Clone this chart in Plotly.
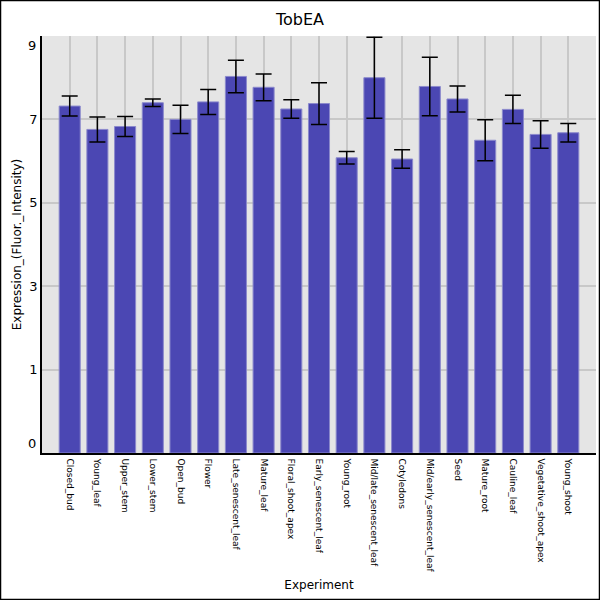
import plotly.graph_objects as go

# tissues along the x axis, in plotted order
experiments = [
    "Closed_bud", "Young_leaf", "Upper_stem", "Lower_stem", "Open_bud",
    "Flower", "Late_senescent_leaf", "Mature_leaf", "Floral_shoot_apex",
    "Early_senescent_leaf", "Young_root", "Mid/late_senescent_leaf",
    "Cotyledons", "Mid/early_senescent_leaf", "Seed", "Mature_root",
    "Cauline_leaf", "Vegetative_shoot_apex", "Young_shoot",
]

# mean expression and standard error
expression = [
    7.32, 6.76, 6.83, 7.40, 7.00, 7.42, 8.03, 7.77, 7.25, 7.38,
    6.08, 8.00, 6.05, 7.79, 7.49, 6.50, 7.24, 6.64, 6.68,
]
std_err = [
    0.24, 0.30, 0.24, 0.09, 0.34, 0.30, 0.39, 0.32, 0.22, 0.50,
    0.15, 0.97, 0.22, 0.70, 0.31, 0.49, 0.34, 0.33, 0.22,
]

grid_ticks = [1, 3, 5, 7, 9]
Y_MIN, Y_MAX = -1, 9

fig = go.Figure()
fig.add_trace(go.Bar(
    x=experiments,
    y=[v - Y_MIN for v in expression],
    base=Y_MIN,
    width=0.76,
    marker=dict(color="#4b47b3", line=dict(color="#8b89cc", width=1)),
    error_y=dict(type="data", array=std_err, color="black", thickness=1.5, width=8),
    hovertext=[f"{e}: {v}" for e, v in zip(experiments, expression)],
))

fig.update_layout(
    width=600, height=600,
    margin=dict(l=42, r=4, t=36, b=147),
    paper_bgcolor="white",
    plot_bgcolor="#e5e5e5",
    font=dict(family="DejaVu Sans", color="black"),
    showlegend=False,
    title=dict(text="TobEA", x=0.5, xref="container", y=0.967, yanchor="middle",
               font=dict(size=16)),
    xaxis=dict(
        title=dict(text="Experiment", font=dict(size=12), standoff=9),
        range=[-1, len(experiments)],
        tickangle=90, tickfont=dict(size=9),
        showgrid=True, gridcolor="#c8c8c8", gridwidth=1.5,
        showline=True, linecolor="black", linewidth=1.5,
        ticks="", ticklabelstandoff=2,
    ),
    yaxis=dict(
        title=dict(text="Expression_(Fluor._Intensity)", font=dict(size=12), standoff=5),
        range=[Y_MIN, Y_MAX],
        tickvals=grid_ticks,
        ticktext=["1", "3", "5", "7", ""],
        tickfont=dict(size=13),
        showgrid=True, gridcolor="#c8c8c8", gridwidth=1.5,
        showline=True, linecolor="black", linewidth=1.5,
        zeroline=False, ticks="",
    ),
)

# end labels of the value axis sit just inside the plot edges
fig.add_annotation(text="9", x=0, xref="paper", xanchor="right", xshift=-4,
                   y=Y_MAX, yref="y", yanchor="top", showarrow=False,
                   font=dict(size=13))
fig.add_annotation(text="0", x=0, xref="paper", xanchor="right", xshift=-4,
                   y=Y_MIN, yref="y", yanchor="bottom", showarrow=False,
                   font=dict(size=13))

# black frame round the whole picture
fig.add_shape(type="rect", xref="paper", yref="paper",
              x0=(0.5 - 42) / 554, x1=(599.5 - 42) / 554,
              y0=(453 - 599.5) / 417, y1=(453 - 0.5) / 417,
              line=dict(color="black", width=1.5))

fig.write_html("out.html", config={"displayModeBar": False},
               post_script="document.body.style.margin='0';")
